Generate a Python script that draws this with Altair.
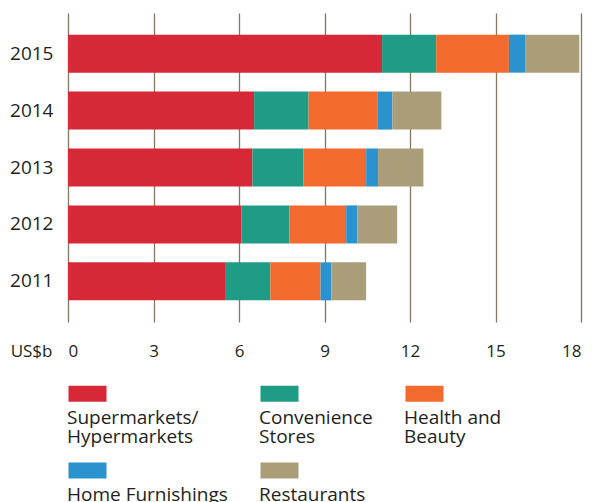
import altair as alt
import pandas as pd

years = ["2015", "2014", "2013", "2012", "2011"]
categories = ["Supermarkets/Hypermarkets", "Convenience Stores", "Health and Beauty",
              "Home Furnishings", "Restaurants"]
legend_lines = [["Supermarkets/", "Hypermarkets"], ["Convenience", "Stores"],
                ["Health and", "Beauty"], ["Home Furnishings"], ["Restaurants"]]
colors = ["#D62836", "#1E9C85", "#F26A2E", "#2A93CE", "#A99D7A"]

supermarkets = [11.02, 6.53, 6.47, 6.08, 5.51]
convenience = [1.90, 1.91, 1.79, 1.69, 1.59]
health_beauty = [2.55, 2.43, 2.20, 1.99, 1.76]
home_furnishings = [0.57, 0.51, 0.42, 0.39, 0.38]
restaurants = [1.90, 1.72, 1.59, 1.40, 1.22]

x_ticks = [0, 3, 6, 9, 12, 15, 18]

series = [supermarkets, convenience, health_beauty, home_furnishings, restaurants]
rows = []
for ci, (cat, vals) in enumerate(zip(categories, series)):
    for y, v in zip(years, vals):
        rows.append({"year": y, "category": cat, "order": ci, "value": v})
df = pd.DataFrame(rows)

label_expr = ""
for cat, lines in zip(categories, legend_lines):
    arr = "[" + ",".join("'" + l + "'" for l in lines) + "]"
    label_expr += f"datum.label == '{cat}' ? {arr} : "
label_expr += "datum.label"

FONT = "Open Sans"
TXT = "#231F20"
GRID = "#857760"

chart = alt.Chart(df).mark_bar().encode(
    x=alt.X("value:Q", stack="zero",
            scale=alt.Scale(domain=[0, 18], nice=False),
            axis=alt.Axis(values=x_ticks, grid=True, gridColor=GRID, gridWidth=1.3,
                          domain=False, ticks=False, tickSize=0, labelFlush=True,
                          labelFont=FONT, labelFontSize=17, labelColor=TXT,
                          labelBaseline="alphabetic", labelPadding=34,
                          title="US$b", titleFont=FONT, titleFontSize=17,
                          titleFontWeight="normal", titleColor=TXT,
                          titleAlign="right", titleBaseline="alphabetic",
                          titleX=-16, titleY=34)),
    y=alt.Y("year:N", sort=years,
            scale=alt.Scale(paddingInner=0.332, paddingOuter=0.38),
            axis=alt.Axis(domain=False, ticks=False, tickSize=0, grid=False,
                          labelFont=FONT, labelFontSize=19, labelColor=TXT,
                          labelPadding=15, title=None)),
    color=alt.Color("category:N",
                    scale=alt.Scale(domain=categories, range=colors),
                    legend=alt.Legend(
                        orient="none", legendX=-20, legendY=386, direction="horizontal",
                        columns=3, title=None, padding=0,
                        symbolType="M11,-23H49V-7H11Z", symbolSize=4,
                        symbolStrokeWidth=0, symbolOpacity=1, symbolOffset=0,
                        labelFont=FONT, labelFontSize=19, labelColor=TXT,
                        labelLimit=400, labelExpr=label_expr,
                        labelOffset=0, labelBaseline="top",
                        columnPadding=12, rowPadding=15)),
    order=alt.Order("order:Q"),
).properties(
    width=513, height=309,
    autosize=alt.AutoSizeParams(type="none"),
    padding={"left": 60, "top": 5, "right": 4, "bottom": 180},
).configure(
    view=alt.ViewConfig(stroke=None),
    style={"guide-label": {"lineHeight": 19}},
)

chart.save("out.html", embed_options={"renderer": "svg", "actions": False})
